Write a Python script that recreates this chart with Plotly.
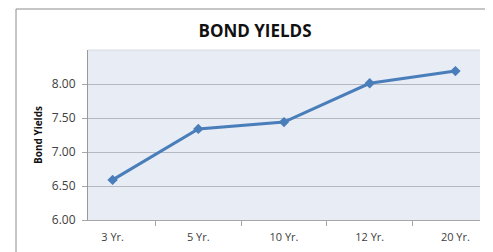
import plotly.graph_objects as go

categories = ["3 Yr.", "5 Yr.", "10 Yr.", "12 Yr.", "20 Yr."]
yields = [6.59, 7.34, 7.44, 8.01, 8.19]
y_ticks = [6.0, 6.5, 7.0, 7.5, 8.0]
y_tick_labels = ["6.00", "6.50", "7.00", "7.50", "8.00"]

fig = go.Figure()
fig.add_trace(go.Scatter(
    x=categories, y=yields, mode="lines+markers",
    line=dict(color="#4A7EBB", width=3),
    marker=dict(symbol="diamond", size=8, color="#4A7EBB"),
))

# page body has an 8px margin, so the figure is offset by 8px
OFF = 8
W, H = 493 - OFF, 252 - OFF
L, R, T, B = 88 - OFF, 13, 50 - OFF, 32
pw, ph = W - L - R, H - T - B

fig.update_layout(
    width=W, height=H,
    margin=dict(l=L, r=R, t=T, b=B, autoexpand=False),
    paper_bgcolor="white",
    plot_bgcolor="#E7ECF5",
    showlegend=False,
    title=dict(text="<b>BOND YIELDS</b>", x=(255 - OFF) / W, xanchor="center",
               y=1 - (31 - OFF) / H, yanchor="middle",
               font=dict(family="Open Sans", size=17, color="#111111")),
    font=dict(family="Open Sans", size=11, color="#404040"),
)
fig.update_xaxes(
    type="category", showgrid=False, showline=True, linecolor="#A6A6A6",
    ticks="outside", tickson="boundaries", ticklen=5, tickcolor="#A6A6A6",
    tickfont=dict(size=11, color="#404040"), automargin=False,
    ticklabelstandoff=7,
)
fig.update_yaxes(
    range=[6.0, 8.5], tickvals=y_ticks, ticktext=y_tick_labels,
    showgrid=True, gridcolor="#B4B8C0", gridwidth=1,
    showline=True, linecolor="#999999", ticks="outside", ticklen=5,
    tickcolor="#A6A6A6", zeroline=False, automargin=False,
    title=dict(text="<b>Bond Yields</b>", font=dict(size=10, color="#111111"), standoff=7),
    tickfont=dict(size=12, color="#404040"), ticklabelstandoff=4,
)

# faint top border of plot area
fig.add_shape(type="line", xref="paper", yref="paper", x0=0, x1=1, y0=1, y1=1,
              line=dict(color="#D8DCE4", width=1))

# chart frame
x0 = (16 - OFF - L) / pw
y1 = 1 + (T - (9 - OFF)) / ph
fig.add_shape(type="line", xref="paper", yref="paper", x0=x0, x1=x0, y0=-0.5, y1=y1,
              line=dict(color="#8C8C8C", width=1))
fig.add_shape(type="line", xref="paper", yref="paper", x0=x0, x1=1.2, y0=y1, y1=y1,
              line=dict(color="#8C8C8C", width=1))

fig.write_html("out.html")
